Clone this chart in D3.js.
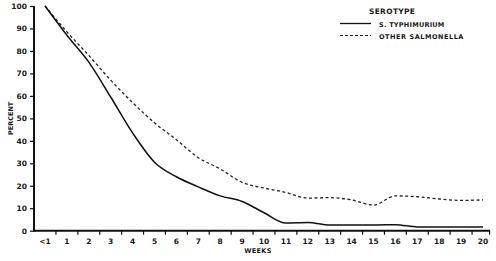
<!DOCTYPE html>
<html>
<head>
<meta charset="utf-8">
<script src="https://cdn.jsdelivr.net/npm/d3@7"></script>
<style>
  body { margin: 0; background: #fff; }
  text { font-family: "DejaVu Sans", sans-serif; font-weight: bold; fill: #1a1a1a; }
</style>
</head>
<body>
<div id="chart"></div>
<script>
// week categories, "<1" is the first
const weeks = ['<1', '1', '2', '3', '4', '5', '6', '7', '8', '9', '10',
  '11', '12', '13', '14', '15', '16', '17', '18', '19', '20'];
// percent still shedding
const typhimurium = [100, 87, 75, 59.5, 43.5, 30.5, 24, 19.5, 15.5, 13, 8,
  3.4, 3.6, 2.5, 2.5, 2.5, 2.7, 1.7, 1.6, 1.6, 1.7];
const otherSalmonella = [100, 88.5, 78, 67, 57, 48, 40.5, 32.5, 27.5, 21.5, 19,
  17, 14.5, 14.7, 13.7, 11.4, 15.5, 15.1, 14.1, 13.5, 13.7];
const yTicks = [0, 10, 20, 30, 40, 50, 60, 70, 80, 90, 100];

const width = 496, height = 261;
const svg = d3.select('#chart').append('svg')
  .attr('width', width)
  .attr('height', height);

const x = d3.scaleLinear().domain([0, 20]).range([45, 483]);
const y = d3.scaleLinear().domain([0, 100]).range([230.7, 6]);
const axisX0 = 34;

// y axis
const yAxis = svg.append('g')
  .attr('transform', `translate(${axisX0},0)`)
  .call(d3.axisLeft(y).tickValues(yTicks).tickSize(4).tickPadding(3));
yAxis.select('.domain').attr('stroke', '#111').attr('stroke-width', 2)
  .attr('d', `M0,${y(100)}V${y(0) + 1}`);
yAxis.selectAll('.tick line').attr('stroke', '#111').attr('stroke-width', 1.2);
yAxis.selectAll('.tick text').attr('font-size', 7.5);

// x axis: ticks sit between week labels
const xAxis = svg.append('g')
  .attr('transform', `translate(0,${y(0)})`);
xAxis.append('line')
  .attr('x1', axisX0 - 1).attr('x2', 490)
  .attr('stroke', '#111').attr('stroke-width', 2);
xAxis.selectAll('line.tk')
  .data(d3.range(0, 20).map(i => i + 0.5).concat([20.3]))
  .join('line')
  .attr('class', 'tk')
  .attr('x1', d => x(d)).attr('x2', d => x(d))
  .attr('y1', 0).attr('y2', 4)
  .attr('stroke', '#111').attr('stroke-width', 1.2);
xAxis.selectAll('text')
  .data(weeks)
  .join('text')
  .attr('x', (d, i) => x(i))
  .attr('y', 13.5)
  .attr('text-anchor', 'middle')
  .attr('font-size', 7.5)
  .text(d => d);

// axis titles
svg.append('text')
  .attr('transform', `translate(13,${y(50)}) rotate(-90)`)
  .attr('text-anchor', 'middle')
  .attr('font-size', 6.5)
  .text('PERCENT');
svg.append('text')
  .attr('x', 258).attr('y', 253)
  .attr('text-anchor', 'middle')
  .attr('font-size', 6.5)
  .attr('letter-spacing', 0.3)
  .text('WEEKS');

// lines
const line = d3.line()
  .x((d, i) => x(i))
  .y(d => y(d))
  .curve(d3.curveMonotoneX);

svg.append('path')
  .datum(otherSalmonella)
  .attr('fill', 'none')
  .attr('stroke', '#222')
  .attr('stroke-width', 1.3)
  .attr('stroke-dasharray', '3,2.5')
  .attr('d', line);

svg.append('path')
  .datum(typhimurium)
  .attr('fill', 'none')
  .attr('stroke', '#111')
  .attr('stroke-width', 1.5)
  .attr('d', line);

// legend
const legend = svg.append('g');
legend.append('text')
  .attr('x', 369).attr('y', 14)
  .attr('font-size', 7.5)
  .attr('letter-spacing', 0.3)
  .text('SEROTYPE');
legend.append('line')
  .attr('x1', 340).attr('x2', 371).attr('y1', 23.5).attr('y2', 23.5)
  .attr('stroke', '#111').attr('stroke-width', 1.3);
legend.append('text')
  .attr('x', 379).attr('y', 26.5)
  .attr('font-size', 6.5)
  .attr('letter-spacing', 0.25)
  .text('S. TYPHIMURIUM');
legend.append('line')
  .attr('x1', 340).attr('x2', 371).attr('y1', 35.5).attr('y2', 35.5)
  .attr('stroke', '#222').attr('stroke-width', 1.2)
  .attr('stroke-dasharray', '3,2');
legend.append('text')
  .attr('x', 379).attr('y', 38.5)
  .attr('font-size', 6.5)
  .attr('letter-spacing', 0.55)
  .text('OTHER SALMONELLA');
</script>
</body>
</html>
